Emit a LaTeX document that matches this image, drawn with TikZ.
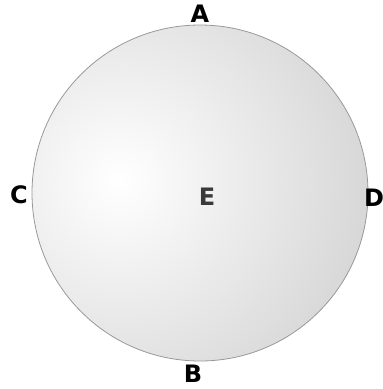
\documentclass[tikz,border=0pt]{standalone}
\usepackage{fontspec}
\setmainfont{DejaVu Sans}
\usepackage{tikz}
\usetikzlibrary{positioning}

\begin{document}
\begin{tikzpicture}[
  x=1pt, y=-1pt,
  lbl/.style={font=\fontsize{24}{24}\selectfont\bfseries, inner sep=0pt},
  rim/.style={draw=gray!80, line width=0.8pt}
]
\useasboundingbox (0,0) rectangle (383,389);
% shaded disc with a light patch to the upper left
\begin{scope}
  \clip (200,193) circle (168);
  \shade[inner color=white, outer color=gray!50] (120,180) circle (400);
\end{scope}
\draw[rim] (200,193) circle (168);
\node[lbl] (a) at (200,14) {A};
\node[lbl] (b) at (193,374) {B};
\node[lbl] (c) at (19,195) {C};
\node[lbl] (d) at (374,198) {D};
\node[lbl, text=gray!45!black] (e) at (207,197) {E};
\end{tikzpicture}
\end{document}
